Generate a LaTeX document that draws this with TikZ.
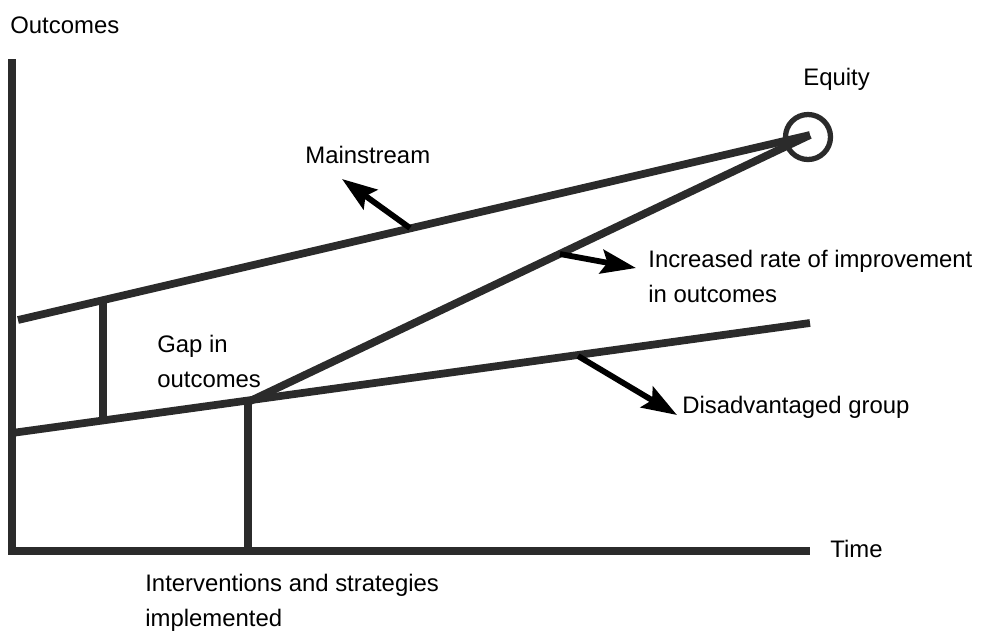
\documentclass[tikz,border=0pt]{standalone}
\usepackage{fontspec}
\setmainfont{Liberation Sans}
\usepackage{tikz}
\usetikzlibrary{positioning}
\usetikzlibrary{calc}
\usetikzlibrary{arrows.meta}

\definecolor{linegray}{HTML}{2B2B2B}

\begin{document}
\begin{tikzpicture}[x=0.02cm,y=-0.02cm,
    trend/.style={line width=4.4pt,color=linegray},
    pointer/.style={line width=3.3pt,-{Stealth[length=0.7cm,width=0.48cm,inset=0.12cm]}},
    lbl/.style={anchor=base west,inner sep=0pt,align=left,
        font=\fontsize{13.6}{19.8}\selectfont}]
\useasboundingbox (0,0) rectangle (1000,633);

%osie
\coordinate (ytop) at (12,59);
\coordinate (origin) at (12,551);
\coordinate (xend) at (810,551);
\draw[trend] (ytop) -- (origin) -- (xend);

%punkty na prostych
\coordinate (ms-start) at (18,320);
\coordinate (eq) at (810,135);
\coordinate (dg-start) at (12,433);
\coordinate (dg-end) at (810,323);
\coordinate (turn) at (248,402);
\coordinate (turn-foot) at (248,551);
\coordinate (gap-top) at (103,300);
\coordinate (gap-bot) at (103,420);

%proste
\draw[trend] (ms-start) -- (eq);
\draw[trend] (dg-start) -- (dg-end);
\draw[trend] (turn) -- (eq);
\draw[trend] (gap-top) -- (gap-bot);
\draw[trend] (turn) -- (turn-foot);

%rownosc
\draw[linegray,line width=3pt] (808,137) circle (22.5);

%strzalki
\coordinate (ms-tail) at (410,228);
\coordinate (ms-tip) at (342,179);
\coordinate (inc-tail) at (560,254);
\coordinate (inc-tip) at (636,268);
\coordinate (dg-tail) at (578,356);
\coordinate (dg-tip) at (677,415);
\foreach \a/\b in {ms-tail/ms-tip,inc-tail/inc-tip,dg-tail/dg-tip}
    \draw[pointer] (\a) -- (\b);

%opisy (base = ostatnia linia)
\node[lbl] (outcomes) at (10,33) {Outcomes};
\node[lbl] (mainstream) at (305,163) {Mainstream};
\node[lbl] (equity) at (803,85) {Equity};
\node[lbl] (increased) at (648,302) {Increased rate of improvement\\in outcomes};
\node[lbl] (gap) at (157,387) {Gap in\\outcomes};
\node[lbl] (disadv) at (682,413) {Disadvantaged group};
\node[lbl] (time) at (830,557) {Time};
\node[lbl] (interv) at (145,626) {Interventions and strategies\\implemented};

%end
\end{tikzpicture}
\end{document}
